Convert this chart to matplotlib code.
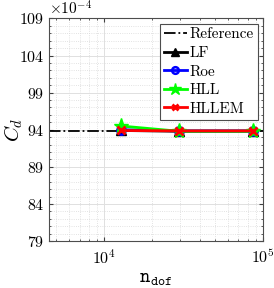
import numpy as np
import matplotlib
matplotlib.use("Agg")
import matplotlib.pyplot as plt
from matplotlib.ticker import MultipleLocator, FuncFormatter, LogLocator

# data (C_d in units of 1e-4)
ndof = [12800, 29400, 86500]
cd_ref = 93.8
cd_lf = [93.9, 93.8, 93.8]
cd_roe = [94.0, 93.85, 93.85]
cd_hll = [94.5, 93.8, 93.8]
cd_hllem = [93.9, 93.85, 93.85]
yticks = [79, 84, 89, 94, 99, 104, 109]

plt.rcParams["font.family"] = "cmr10"
plt.rcParams["mathtext.fontset"] = "cm"
plt.rcParams["axes.formatter.use_mathtext"] = True
plt.rcParams["font.size"] = 11

fig = plt.figure(figsize=(2.74, 2.88), dpi=100)
ax = fig.add_axes([0.179, 0.163, 0.781, 0.773])

ax.axhline(cd_ref, color="black", linestyle="-.", linewidth=1.3, label="Reference")
ax.plot(ndof, cd_lf, "-^", color="black", linewidth=2, markersize=7, label="LF")
ax.plot(ndof, cd_roe, "-o", color="blue", linewidth=2, markersize=6,
        markerfacecolor="none", markeredgewidth=1.8, label="Roe")
ax.plot(ndof, cd_hll, "-*", color="#00ff00", linewidth=2, markersize=11, label="HLL")
ax.plot(ndof, cd_hllem, "-x", color="red", linewidth=2, markersize=6,
        markeredgewidth=2, label="HLLEM")

ax.set_xscale("log")
ax.set_xlim(4500, 1.0e5)
ax.set_ylim(79, 109)
ax.set_yticks(yticks)
ax.yaxis.set_major_formatter(FuncFormatter(lambda v, p: "$%d$" % v))
ax.yaxis.set_minor_locator(MultipleLocator(1))
ax.xaxis.set_minor_locator(LogLocator(base=10, subs=np.arange(2, 10)))

ax.tick_params(which="both", direction="in", top=True, right=True, colors="0.25",
               labelcolor="black", labelsize=11.5)
ax.tick_params(which="major", length=3)
ax.tick_params(which="minor", length=1.5)
ax.tick_params(axis="x", pad=5)
for s in ax.spines.values():
    s.set_color("0.3")
    s.set_linewidth(0.8)

ax.grid(which="major", color="0.88", linewidth=0.7)
ax.grid(which="minor", color="0.85", linestyle=":", linewidth=0.6)
ax.set_axisbelow(True)

ax.text(0.0, 1.005, r"$\times10^{-4}$", transform=ax.transAxes, fontsize=11,
        ha="left", va="bottom")
ax.set_xlabel(r"$\mathtt{n}_{\mathtt{dof}}$", fontsize=14)
ax.xaxis.set_label_coords(0.5, -0.13, transform=ax.transAxes)
ax.xaxis.label.set_va("top")
ax.set_ylabel(r"$C_d$", fontsize=15)
ax.yaxis.set_label_coords(-0.165, 0.5, transform=ax.transAxes)
ax.yaxis.label.set_va("center")

leg = ax.legend(loc="upper right", fontsize=11, handlelength=1.5, handletextpad=0.2,
                labelspacing=0.32, borderpad=0.25, borderaxespad=0.35,
                markerscale=0.8, fancybox=False, framealpha=1, edgecolor="0.3")
leg.get_frame().set_linewidth(0.8)

fig.savefig("out.png", dpi=100)
